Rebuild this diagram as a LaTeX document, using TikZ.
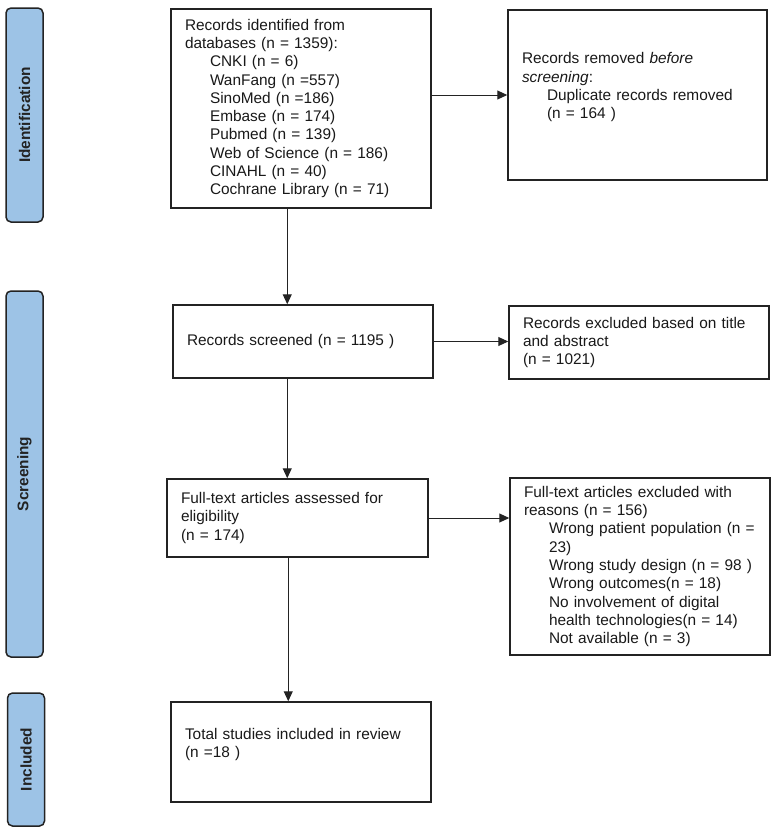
\documentclass[tikz,border=0pt]{standalone}
\usepackage{fontspec}
\setmainfont{Liberation Sans}
\usetikzlibrary{arrows.meta}
\definecolor{barblue}{RGB}{157,195,230}
\definecolor{edge}{RGB}{35,35,35}
\tikzset{
  flowbox/.style={draw=edge, line width=1.5pt, fill=white, inner xsep=14pt, inner ysep=0pt,
     align=left, text=black!90, font=\fontsize{15.4}{18.3}\selectfont},
  phasebar/.style={draw=edge, line width=1.5pt, fill=barblue, rounded corners=5pt,
     minimum width=37pt, inner sep=0pt},
  phasetext/.style={rotate=90, font=\fontsize{15.4}{18}\selectfont\bfseries, text=edge},
  arr/.style={draw=edge, line width=1pt, -{Triangle[length=10pt,width=9pt]}}
}
\newcommand{\ind}{\hspace*{25pt}}
\begin{document}
\begin{tikzpicture}[x=1pt,y=-1pt]
\useasboundingbox (0,0) rectangle (776,833);
\fill[white] (0,0) rectangle (776,833);

% phase bars
\node[phasebar, minimum height=214pt] (pid) at (24.5,115) {};
\node[phasetext] (tid) at (pid.center) {Identification};
\node[phasebar, minimum height=366pt] (psc) at (24.5,474) {};
\node[phasetext] (tsc) at (psc.center) {Screening};
\node[phasebar, minimum height=133pt] (pin) at (26,759.5) {};
\node[phasetext] (tin) at (pin.center) {Included};

% boxes
\node[flowbox, minimum width=260pt, minimum height=199pt, text width=232pt] (box1) at (301,108.5) {%
Records identified from\\
databases (n = 1359):\\
\ind CNKI (n = 6)\\
\ind WanFang (n =557)\\
\ind SinoMed (n =186)\\
\ind Embase (n = 174)\\
\ind Pubmed (n = 139)\\
\ind Web of Science (n = 186)\\
\ind CINAHL (n = 40)\\
\ind Cochrane Library (n = 71)};

\node[flowbox, minimum width=259pt, minimum height=170pt, text width=231pt] (rem) at (637.5,95) {%
Records removed \textit{before}\\
\textit{screening}:\\
\ind Duplicate records removed\\
\ind (n = 164 )\\
\mbox{}};

\node[flowbox, minimum width=260pt, minimum height=73pt, text width=232pt] (scr) at (303,341.5) {%
Records screened (n = 1195 )};

\node[flowbox, minimum width=260pt, minimum height=73pt, text width=232pt] (ex1) at (639,342.5) {%
Records excluded based on title\\
and abstract\\
(n = 1021)};

\node[flowbox, minimum width=261pt, minimum height=78pt, text width=233pt] (elig) at (297.5,518) {%
Full-text articles assessed for\\
eligibility\\
(n = 174)};

\node[flowbox, minimum width=260pt, minimum height=177pt, text width=232pt] (ex2) at (640,566.5) {%
Full-text articles excluded with\\
reasons (n = 156)\\
\ind Wrong patient population (n =\\
\ind 23)\\
\ind Wrong study design (n = 98 )\\
\ind Wrong outcomes(n = 18)\\
\ind No involvement of digital\\
\ind health technologies(n = 14)\\
\ind Not available (n = 3)};

\node[flowbox, minimum width=260pt, minimum height=100pt, text width=232pt] (fin) at (301,752) {%
Total studies included in review\\
(n =18 )\\
\mbox{}};

% connectors
\draw[arr] (box1.east |- rem.west) -- (rem.west);
\draw[arr] ([xshift=117pt]box1.south west) -- ([xshift=115pt]scr.north west);
\draw[arr] (scr.east) -- (scr.east -| ex1.west);
\draw[arr] ([xshift=115pt]scr.south west) -- ([xshift=121pt]elig.north west);
\draw[arr] (elig.east) -- (elig.east -| ex2.west);
\draw[arr] ([xshift=122pt]elig.south west) -- ([xshift=118pt]fin.north west);
\end{tikzpicture}
\end{document}
